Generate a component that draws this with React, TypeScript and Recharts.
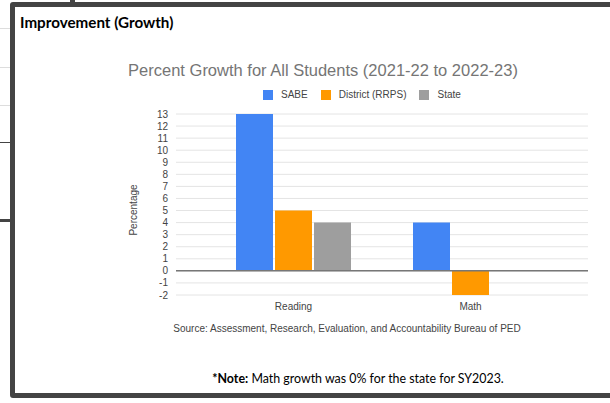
import { BarChart, Bar, XAxis, YAxis, CartesianGrid, ReferenceLine } from "recharts";

const subjects = ["Reading", "Math"];
const sabe = [13, 4];
const district = [5, -2];
const state = [4, 0];
const yTicks = [-2, -1, 0, 1, 2, 3, 4, 5, 6, 7, 8, 9, 10, 11, 12, 13];

const series = [
  { key: "sabe", name: "SABE", color: "#4285F4" },
  { key: "district", name: "District (RRPS)", color: "#FF9900" },
  { key: "state", name: "State", color: "#9E9E9E" },
];

const data = subjects.map((s, i) => ({
  subject: s,
  sabe: sabe[i],
  district: district[i],
  state: state[i],
}));

const FONT = "'Liberation Sans', Arial, sans-serif";
const CAL = "Lato, 'Open Sans', sans-serif";

// legend items, drawn by hand so spacing matches
function LegendRow() {
  return (
    <div style={{ display: "flex", alignItems: "center", fontFamily: FONT, fontSize: 10, color: "#444" }}>
      {series.map((s) => (
        <div key={s.key} style={{ display: "flex", alignItems: "center", marginRight: 13 }}>
          <span style={{ width: 10, height: 10, background: s.color, display: "inline-block", marginRight: 8 }} />
          <span>{s.name}</span>
        </div>
      ))}
    </div>
  );
}

export default function App() {
  return (
    <div style={{ position: "absolute", left: 0, top: 0, width: 610, height: 403, overflow: "hidden", background: "#fff" }}>
      {/* bits of the slide behind the box */}
      <div style={{ position: "absolute", left: 0, top: 28, width: 10, height: 1, background: "#ddd" }} />
      <div style={{ position: "absolute", left: 0, top: 67, width: 10, height: 1, background: "#ddd" }} />
      <div style={{ position: "absolute", left: 0, top: 105, width: 10, height: 1, background: "#ddd" }} />
      <div style={{ position: "absolute", left: 0, top: 142, width: 10, height: 1, background: "#444" }} />
      <div style={{ position: "absolute", left: 0, top: 219, width: 10, height: 3, background: "#444" }} />
      <div style={{ position: "absolute", left: 70, top: 0, width: 5, height: 3, background: "#444" }} />

      <div
        style={{
          position: "absolute",
          left: 10,
          top: 2,
          width: 600,
          height: 386,
          border: "5px solid #444",
          borderRadius: 3,
        }}
      />

      <div style={{ position: "absolute", left: 20, top: 13, fontFamily: CAL, fontWeight: 700, fontSize: 15.2, color: "#000" }}>
        Improvement (Growth)
      </div>

      <div
        style={{
          position: "absolute",
          left: 323,
          top: 61,
          transform: "translateX(-50%)",
          whiteSpace: "nowrap",
          fontFamily: FONT,
          fontSize: 16.5,
          color: "#757575",
        }}
      >
        Percent Growth for All Students (2021-22 to 2022-23)
      </div>

      <div style={{ position: "absolute", left: 263, top: 89 }}>
        <LegendRow />
      </div>

      <div style={{ position: "absolute", left: 0, top: 0 }}>
        <BarChart
          width={610}
          height={403}
          data={data}
          margin={{ top: 114, right: 22, bottom: 78, left: 116 }}
          barCategoryGap={31}
          barGap={2}
        >
          <CartesianGrid vertical={false} stroke="#e4e4e4" />
          <XAxis
            dataKey="subject"
            axisLine={false}
            tickLine={false}
            padding={{ left: 29, right: 29 }}
            tick={{ fontSize: 10, fill: "#444", fontFamily: FONT }}
            height={30}
          />
          <YAxis
            width={60}
            domain={[-2, 13]}
            ticks={yTicks}
            interval={0}
            axisLine={false}
            tickLine={false}
            tickMargin={8}
            tickSize={0}
            tick={{ fontSize: 10, fill: "#444", fontFamily: FONT }}
          />
          <ReferenceLine y={0} stroke="#777" strokeWidth={1.5} />
          {series.map((s) => (
            <Bar key={s.key} dataKey={s.key} name={s.name} fill={s.color} isAnimationActive={false} />
          ))}
        </BarChart>
      </div>

      <div
        style={{
          position: "absolute",
          left: 133,
          top: 210,
          transform: "translate(-50%, -50%) rotate(-90deg)",
          fontFamily: FONT,
          fontSize: 10,
          color: "#444",
          whiteSpace: "nowrap",
        }}
      >
        Percentage
      </div>

      <div
        style={{
          position: "absolute",
          left: 347,
          top: 323,
          transform: "translateX(-50%)",
          whiteSpace: "nowrap",
          fontFamily: FONT,
          fontSize: 10,
          color: "#444",
        }}
      >
        Source: Assessment, Research, Evaluation, and Accountability Bureau of PED
      </div>

      <div
        style={{
          position: "absolute",
          left: 358,
          top: 371,
          transform: "translateX(-50%)",
          whiteSpace: "nowrap",
          fontFamily: CAL,
          fontSize: 12.4,
          color: "#000",
        }}
      >
        <b>*Note:</b> Math growth was 0% for the state for SY2023.
      </div>
    </div>
  );
}
